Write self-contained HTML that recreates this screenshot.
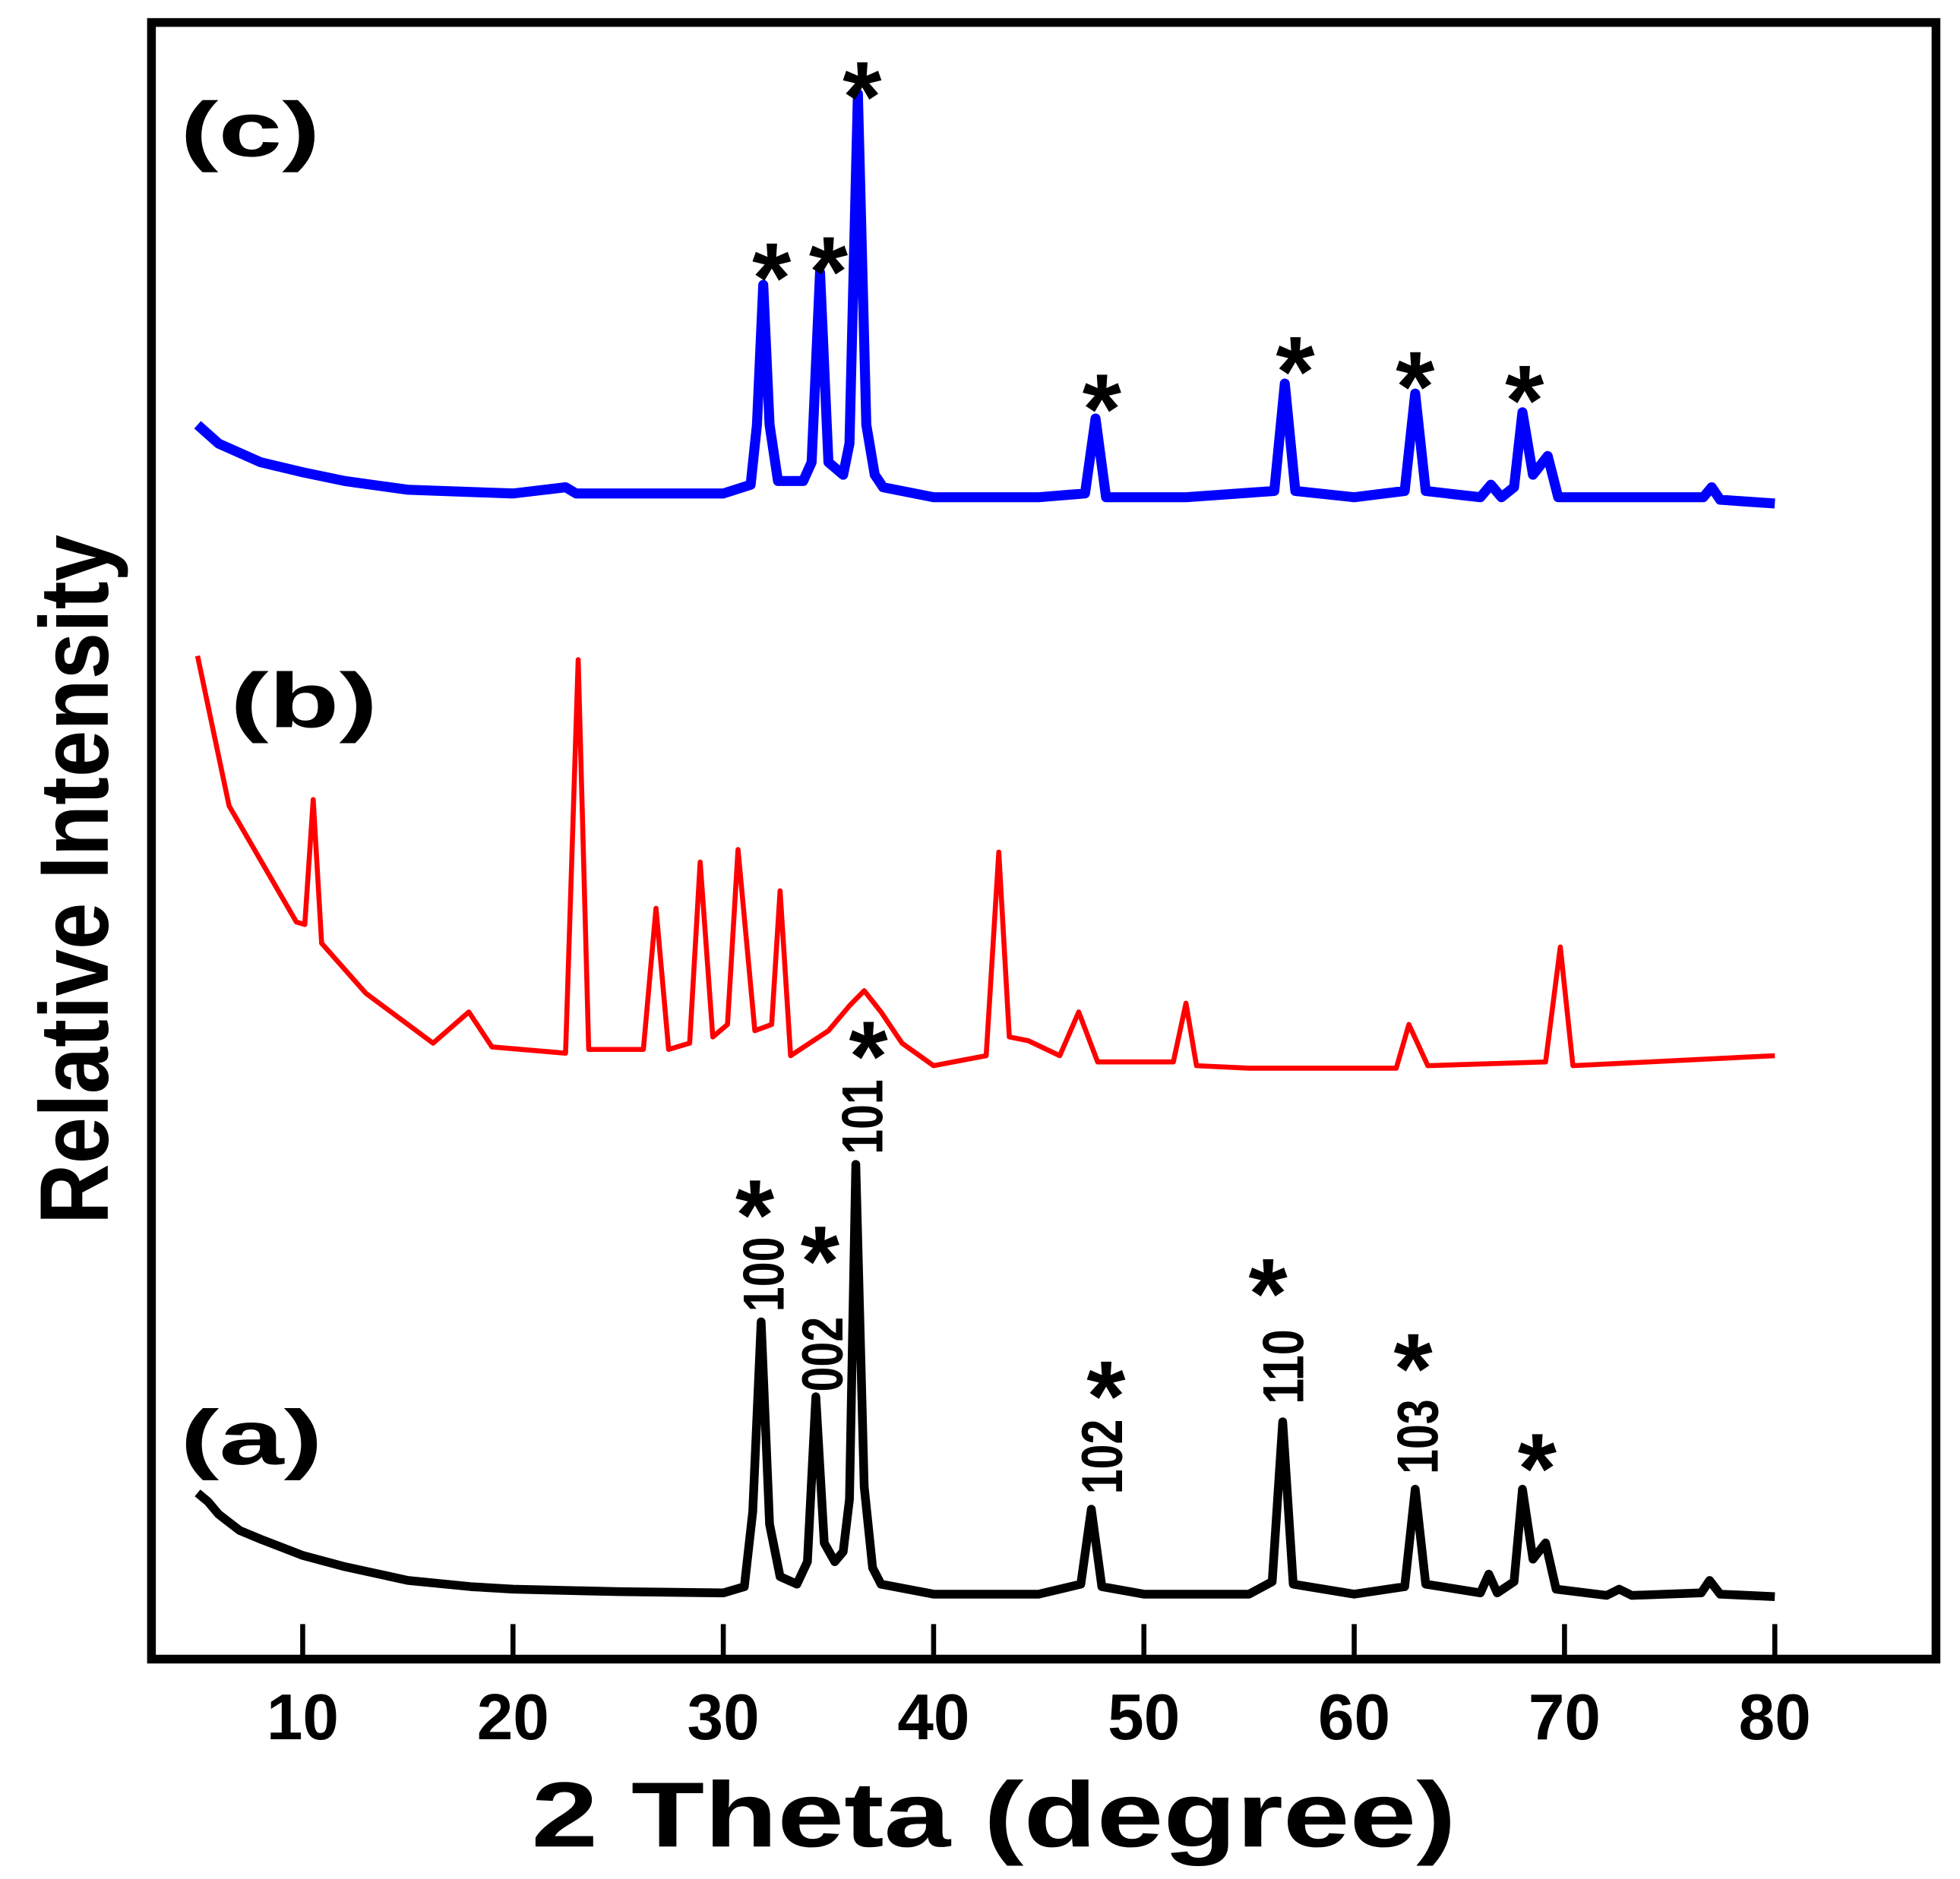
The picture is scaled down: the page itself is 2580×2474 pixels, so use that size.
<!DOCTYPE html>
<html><head><meta charset="utf-8"><style>
html,body{margin:0;padding:0;background:#fff}
svg{display:block}
text{font-family:"Liberation Sans",Arial,sans-serif;font-weight:bold}
</style></head><body>
<svg id="chart" width="2580" height="2474" viewBox="0 0 1568 1504" xmlns="http://www.w3.org/2000/svg">
<rect x="0" y="0" width="1568" height="1504" fill="#fff"/>
<rect x="121" y="18" width="1428" height="1310" fill="none" stroke="#000" stroke-width="7"/>
<g id="ticks"></g>
<g id="series"></g>
<g id="annots"></g>
<text x="425" y="1478" font-size="74" textLength="740" lengthAdjust="spacingAndGlyphs">2 Theta (degree)</text>
<text transform="translate(86,980) rotate(-90)" font-size="78" textLength="552" lengthAdjust="spacingAndGlyphs">Relative Intensity</text>
<text x="144" y="125" font-size="62" textLength="112" lengthAdjust="spacingAndGlyphs">(c)</text>
<text x="184" y="582" font-size="62" textLength="118" lengthAdjust="spacingAndGlyphs">(b)</text>
<text x="144" y="1172" font-size="62" textLength="114" lengthAdjust="spacingAndGlyphs">(a)</text>
</svg>
<script>
const xTicks = [10,20,30,40,50,60,70,80];
const xTickLabels = ["10","20","30","40","50","60","70","80"];

const aX = [5,5.5,6,7,8,10,12,15,18,20,25,30,31.0,31.4,31.8,32.2,32.7,33.5,34.0,34.4,34.8,35.3,35.7,36.0,36.3,36.7,37.1,37.5,40,45,47.0,47.5,48.0,50,55,56.1,56.6,57.1,60,62.4,62.9,63.4,66.0,66.4,66.8,67.6,68.0,68.5,69.1,69.6,72,72.6,73.2,76.5,76.9,77.4,80];
const aY = [135,128,118,105,98,85,76,65,60,58,56,55,60,120,272,110,68,62,80,212,95,80,88,130,398,140,75,62,54,54,62,122,60,54,54,64,192,62,54,60,138,62,55,70,55,64,138,82,95,58,53,58,53,55,65,54,52];

const bX = [5,6.5,9.7,10.1,10.5,10.9,13,16.2,17.9,19,22.5,23.1,23.6,26.2,26.8,27.4,28.4,28.9,29.5,30.2,30.7,31.5,32.3,32.7,33.2,35,36.0,36.7,37.5,38.5,40,42.5,43.1,43.6,44.5,46,46.9,47.8,51.4,52,52.5,55,62,62.6,63.5,69.1,69.8,70.4,80];
const bY = [805,685,592,590,690,575,535,495,520,492,487,802,490,490,603,490,495,640,500,510,650,505,510,617,485,505,525,537,520,495,477,485,648,500,497,485,520,480,480,527,477,475,475,510,477,480,572,477,485];

const cX = [5,6,8,10,12,15,20,22.5,23,25,30,31.3,31.6,31.9,32.2,32.6,33.8,34.2,34.6,35.0,35.7,36.0,36.4,36.8,37.2,37.6,40,45,47.2,47.7,48.2,52,56.2,56.7,57.2,60,62.4,62.9,63.4,66.0,66.5,67.0,67.6,68.0,68.5,69.2,69.7,72,76.6,77,77.4,80];
const cY = [990,975,960,952,945,938,935,940,935,935,935,942,990,1102,990,945,945,960,1112,960,950,975,1255,990,950,940,932,932,935,995,932,932,937,1023,937,932,937,1015,937,932,942,932,940,1000,950,965,932,932,932,940,930,927];

const starXC = [32.3,35.0,36.6,48.0,57.2,62.9,68.1];
const starYC = [1125,1130,1270,1020,1050,1038,1027];
const starXA = [31.5,34.6,36.9,48.2,55.9,62.8,68.7];
const starYA = [375,338,502,230,312,252,172];
const hklLabels = ["100","002","101","102","110","103"];
const hklPos = [31.8,34.6,36.5,47.9,56.5,62.9];
const hklVal = [274,210,400,128,200,144];

const X0=242, PX=16.829, YB=1330;
const sx = d => X0 + (d-10)*PX;
const sy = v => YB - v;
const NS='http://www.w3.org/2000/svg';
const mk = t => document.createElementNS(NS,t);

const tk = document.getElementById('ticks');
xTicks.forEach((t,i)=>{
  const l = mk('line');
  
  
  l.setAttribute('x1',sx(t)); l.setAttribute('x2',sx(t));
  l.setAttribute('y1',1326); l.setAttribute('y2',1300);
  l.setAttribute('stroke','#000'); l.setAttribute('stroke-width','4');
  tk.appendChild(l);
  const tx = mk('text');
  
  
  tx.setAttribute('x',sx(t)); tx.setAttribute('y',1392);
  tx.setAttribute('text-anchor','middle'); tx.setAttribute('font-size','52');
  tx.textContent = xTickLabels[i];
  tk.appendChild(tx);
});

const sg = document.getElementById('series');
function line(xs,ys,color,w,name){
  const p = mk('polyline');
  
  
  p.setAttribute('points', xs.map((x,i)=>sx(x)+','+sy(ys[i])).join(' '));
  p.setAttribute('fill','none'); p.setAttribute('stroke',color);
  p.setAttribute('stroke-width',w); p.setAttribute('stroke-linejoin','round');
  sg.appendChild(p);
}
line(aX,aY,'#000',7,'series-a');
line(bX,bY,'#ff0000',4,'series-b');
line(cX,cY,'#0000ff',8,'series-c');

const an = document.getElementById('annots');
function star(x,y,name){
  const t = mk('text');
  
  
  t.setAttribute('x',x); t.setAttribute('y',y+45);
  t.setAttribute('text-anchor','middle'); t.setAttribute('font-size','80');
  t.textContent='*';
  an.appendChild(t);
}
starXC.forEach((d,i)=>{ star(sx(d), sy(starYC[i]), 'star-c'); });
starXA.forEach((d,i)=>{ star(sx(d), sy(starYA[i]), 'star-a'); });
hklLabels.forEach((s,i)=>{
  const t = mk('text');
  
  
  t.setAttribute('transform','translate('+(sx(hklPos[i])+18)+','+(sy(hklVal[i])-6)+') rotate(-90)');
  t.setAttribute('font-size','46');
  t.setAttribute('textLength','60');
  t.setAttribute('lengthAdjust','spacingAndGlyphs');
  t.textContent=s;
  an.appendChild(t);
});
</script>
</body></html>
